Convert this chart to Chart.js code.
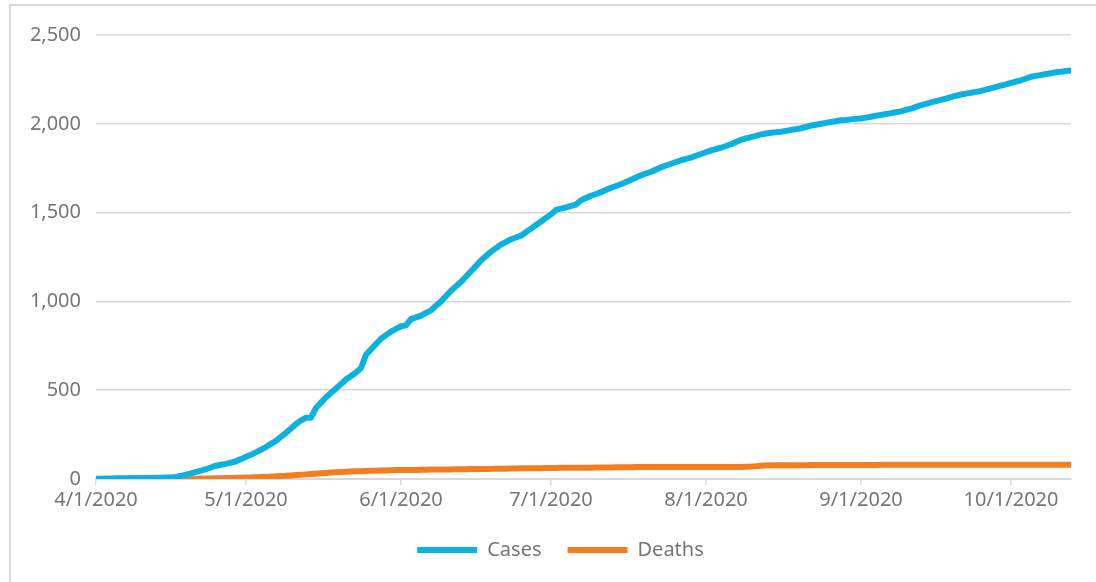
<!DOCTYPE html>
<html>
<head>
<meta charset="utf-8">
<script src="https://cdn.jsdelivr.net/npm/chart.js@4/dist/chart.umd.min.js"></script>
<style>
  html, body { margin: 0; padding: 0; background: #fff; overflow: hidden; }
  #frame {
    position: absolute; left: 9px; top: 4px; width: 1120px; height: 620px;
    border: 2px solid #d9d9d9; box-sizing: border-box;
  }
  #wrap { position: absolute; left: 0; top: 0; width: 1096px; height: 582px; }
</style>
</head>
<body>
<div id="frame"></div>
<div id="wrap"><canvas id="grafico" width="1096" height="582"></canvas></div>
<script>
// daily values, day 0 = 4/1/2020 ... day 195 = 10/13/2020
const casos = [
  2, 2, 3, 3, 4, 4, 4, 5, 5, 5, 6, 6, 7, 7, 8, 9,
  12, 18, 25, 32, 40, 47, 55, 65, 75, 80, 85, 92, 100, 112, 125,
  137, 150, 165, 180, 198, 215, 238, 260, 285, 310, 330, 345, 345, 400, 430,
  460, 485, 510, 535, 560, 580, 600, 625, 700, 730, 760, 790, 810, 830, 845,
  860, 865, 900, 910, 920, 935, 950, 975, 1000, 1030, 1060, 1085, 1110, 1140, 1170,
  1200, 1230, 1255, 1280, 1300, 1320, 1335, 1350, 1360, 1370, 1390, 1410, 1430, 1450, 1470,
  1490, 1515, 1522, 1530, 1538, 1545, 1570, 1582, 1595, 1605, 1615, 1628, 1640, 1650, 1660,
  1672, 1685, 1698, 1710, 1720, 1730, 1742, 1755, 1765, 1775, 1785, 1795, 1802, 1810, 1820,
  1830, 1840, 1850, 1858, 1865, 1875, 1885, 1898, 1910, 1918, 1925, 1932, 1940, 1945, 1950,
  1952, 1955, 1960, 1965, 1970, 1975, 1982, 1990, 1995, 2000, 2005, 2010, 2015, 2020, 2022,
  2025, 2028, 2030, 2035, 2040, 2045, 2050, 2055, 2060, 2065, 2070, 2078, 2085, 2095, 2105,
  2112, 2120, 2128, 2135, 2142, 2150, 2158, 2165, 2170, 2175, 2180, 2185, 2192, 2200, 2208,
  2215, 2222, 2230, 2238, 2245, 2255, 2265, 2270, 2275, 2280, 2285, 2290, 2293, 2297, 2300,
];

const muertes = [
  0, 0, 0, 0, 0, 0, 0, 0, 0, 1, 1, 1, 1, 1, 1, 1,
  2, 2, 2, 2, 2, 3, 3, 3, 4, 4, 5, 5, 6, 7, 8,
  9, 10, 11, 12, 14, 15, 17, 18, 20, 22, 24, 26, 28, 30, 32,
  34, 36, 38, 40, 41, 42, 43, 44, 45, 46, 47, 48, 48, 49, 50,
  50, 50, 51, 51, 52, 52, 53, 53, 53, 54, 54, 55, 55, 55, 56,
  56, 56, 57, 57, 58, 58, 58, 59, 59, 60, 60, 61, 61, 61, 62,
  62, 62, 63, 63, 63, 64, 64, 64, 64, 65, 65, 65, 65, 66, 66,
  66, 66, 67, 67, 67, 67, 68, 68, 68, 68, 68, 68, 68, 68, 68,
  68, 68, 68, 68, 68, 68, 68, 68, 68, 69, 70, 72, 75, 76, 77,
  77, 77, 78, 78, 78, 78, 78, 79, 79, 79, 79, 79, 79, 79, 79,
  79, 79, 79, 79, 79, 79, 80, 80, 80, 80, 80, 80, 80, 80, 80,
  80, 80, 80, 80, 80, 80, 80, 80, 80, 80, 80, 80, 80, 80, 80,
  80, 80, 80, 80, 80, 80, 80, 80, 80, 80, 80, 80, 80, 80, 80,
];

// month ticks on the x axis (day index from 4/1/2020)
const diasEtiqueta = [0, 30, 61, 91, 122, 153, 183];
const etiquetasX = ["4/1/2020", "5/1/2020", "6/1/2020", "7/1/2020", "8/1/2020", "9/1/2020", "10/1/2020"];

const gris = "#767676";
const fuente = { family: "'Noto Sans', 'Open Sans', sans-serif", size: 20 };

// the legend sits a little right of the plot centre in the original
const correrLeyenda = {
  id: "correrLeyenda",
  afterLayout(chart) {
    chart.legend.left += 20;
    chart.legend.right += 20;
  },
};

const ctx = document.getElementById("grafico");

const grafico = new Chart(ctx, {
  type: "line",

  data: {
    datasets: [
      {
        label: "Cases",
        data: casos.map((v, i) => ({ x: i, y: v })),
        borderColor: "#0BB1E0",
        backgroundColor: "#0BB1E0",
        borderWidth: 6,
        borderCapStyle: "round",
        borderJoinStyle: "round",
        pointRadius: 0,
        tension: 0,
      },
      {
        label: "Deaths",
        data: muertes.map((v, i) => ({ x: i, y: v })),
        borderColor: "#F47D22",
        backgroundColor: "#F47D22",
        borderWidth: 6,
        borderCapStyle: "round",
        borderJoinStyle: "round",
        pointRadius: 0,
        tension: 0,
      },
    ],
  },

  plugins: [correrLeyenda],

  options: {
    responsive: false,
    animation: false,

    layout: {
      padding: { left: 10, right: 25, top: 35, bottom: 12 },
    },

    plugins: {
      tooltip: { enabled: false },
      legend: {
        position: "bottom",
        labels: {
          usePointStyle: true,
          pointStyle: "line",
          pointStyleWidth: 60,
          boxHeight: 6,
          padding: 26,
          color: gris,
          font: fuente,
        },
      },
    },

    scales: {
      x: {
        type: "linear",
        min: 0,
        max: casos.length - 1,
        afterBuildTicks: (s) => {
          s.ticks = diasEtiqueta.map((d) => ({ value: d }));
        },
        afterFit: (s) => {
          s.height = 35;
        },
        ticks: {
          autoSkip: false,
          maxRotation: 0,
          padding: 3,
          color: gris,
          font: fuente,
          callback: (v) => etiquetasX[diasEtiqueta.indexOf(v)],
        },
        grid: {
          drawOnChartArea: false,
          drawTicks: true,
          tickLength: 6,
          color: "#d9d9d9",
          lineWidth: 1.5,
        },
        border: { color: "#d9d9d9", width: 2 },
      },

      y: {
        min: 0,
        max: 2500,
        afterFit: (s) => {
          s.width = 86;
        },
        ticks: {
          stepSize: 500,
          padding: 15,
          color: gris,
          font: fuente,
          callback: (v) => v.toLocaleString("en-US"),
        },
        grid: {
          drawTicks: false,
          color: "#d9d9d9",
          lineWidth: 1.5,
        },
        border: { display: false },
      },
    },
  },
});
</script>
</body>
</html>
